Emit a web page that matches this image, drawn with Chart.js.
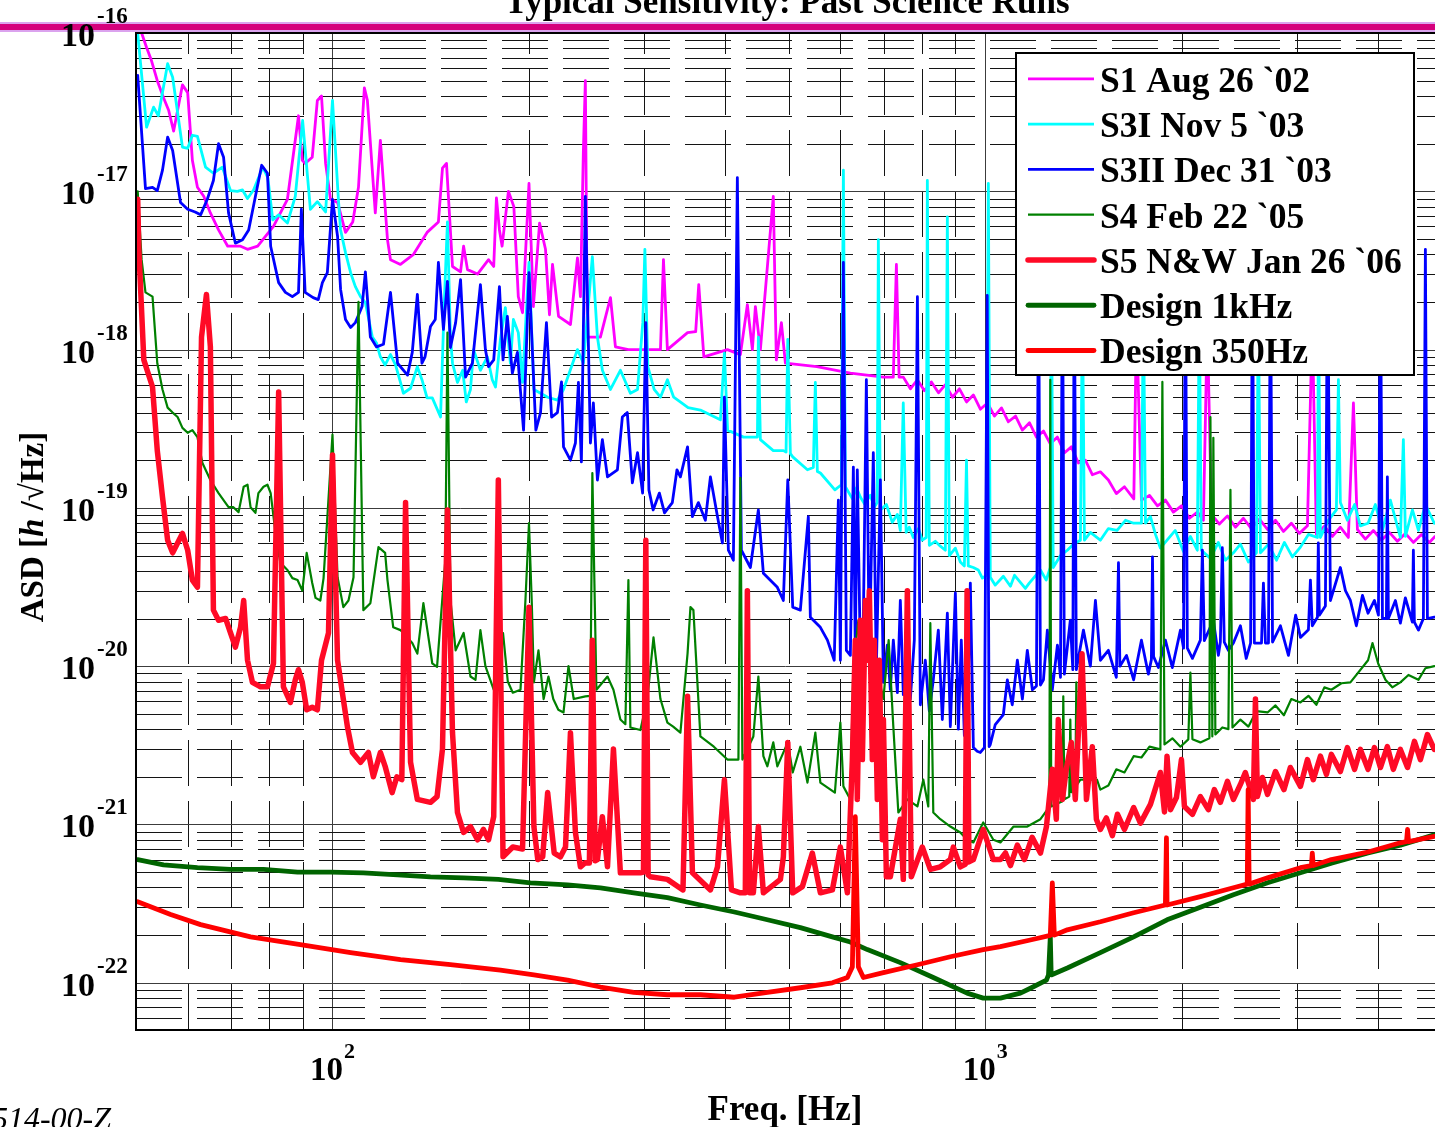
<!DOCTYPE html>
<html lang="en">
<head>
<meta charset="utf-8">
<title>Typical Sensitivity: Past Science Runs</title>
<script src="https://cdn.jsdelivr.net/npm/chart.js@4.4.1/dist/chart.umd.min.js"></script>
<style>
  html, body { margin: 0; padding: 0; background: #fff; overflow: hidden; }
  #chart-box { width: 1435px; height: 1127px; }
</style>
</head>
<body>
<div id="chart-box"><canvas id="asd-chart"></canvas></div>
<script>
// [frequency Hz, ASD 1/sqrt(Hz)] pairs
const s1Aug02 = [
  [51.0,1.0e-16],[51.9,8.1e-17],[52.8,6.7e-17],[53.9,5.0e-17],[55.1,3.9e-17],[56.1,3.25e-17],[57.1,2.4e-17],
  [58.9,4.7e-17],[60.0,4.2e-17],[61.0,1.57e-17],[62.1,1.06e-17],[63.5,9.3e-18],[65.0,7.3e-18],[66.9,5.7e-18],
  [69.1,4.5e-18],[72.3,4.5e-18],[74.1,4.3e-18],[76.8,4.5e-18],[81.2,6.0e-18],[85.3,8.9e-18],[88.7,3.0e-17],
  [89.9,1.57e-17],[90.8,1.5e-17],[93.1,1.64e-17],[94.8,3.75e-17],[96.2,4.0e-17],[97.6,1.5e-17],[99.3,8.9e-18],
  [101.8,8.5e-18],[104.7,5.5e-18],[107.4,6.4e-18],[109.6,1.06e-17],[111.9,4.5e-17],[113.1,3.75e-17],[116.3,7.3e-18],
  [118.4,2.1e-17],[121.4,4.95e-18],[122.7,3.7e-18],[127.1,3.45e-18],[133.1,4.0e-18],[139.6,5.5e-18],[145.3,6.4e-18],
  [147.4,1.4e-17],[149.5,1.5e-17],[152.7,3.35e-18],[157.1,3.1e-18],[158.8,4.5e-18],[161.0,3.2e-18],[166.8,3.0e-18],
  [173.4,3.7e-18],[176.6,3.35e-18],[178.3,9.1e-18],[180.2,5.7e-18],[181.9,4.5e-18],[186.0,1.0e-17],[189.6,8.0e-18],
  [192.6,2.16e-18],[195.5,1.71e-18],[200.0,1.12e-17],[203.1,1.87e-18],[207.6,6.3e-18],[212.0,4.3e-18],[215.0,1.66e-18],
  [217.3,3.45e-18],[222.0,1.62e-18],[231.5,1.44e-18],[237.3,3.8e-18],[239.8,2.16e-18],[242.3,1.81e-17],[244.0,5.0e-17],
  [245.7,1.2e-18],[257.3,1.2e-18],[266.6,2.13e-18],[271.3,1.04e-18],[284.0,1.0e-18],[318.0,1.0e-18],[321.4,3.7e-18],
  [325.9,1.0e-18],[349.9,1.28e-18],[360.1,1.3e-18],[364.0,2.57e-18],[370.6,9.0e-19],[402.7,1.0e-18],[421.6,9.3e-19],
  [432.1,1.92e-18],[439.8,1.0e-18],[444.5,1.87e-18],[452.4,1.0e-18],[473.5,9.3e-18],[478.6,8.6e-19],[487.2,1.48e-18],
  [494.1,8.2e-19],[552.1,7.8e-19],[621.4,7.1e-19],[698,6.7e-19],[723,6.7e-19],[731,3.45e-18],[738,6.7e-19],
  [749,6.7e-19],[768,5.65e-19],[787,6.45e-19],[807,5.5e-19],[827,6.25e-19],[848,5.33e-19],[869,6.0e-19],
  [891,5.0e-19],[913,5.65e-19],[936,4.67e-19],[959,5.17e-19],[983,4.2e-19],[1008,4.6e-19],[1033,3.8e-19],
  [1059,4.28e-19],[1085,3.5e-19],[1113,3.8e-19],[1140,3.1e-19],[1169,3.45e-19],[1198,2.8e-19],[1228,3.06e-19],
  [1258,2.54e-19],[1290,2.8e-19],[1323,2.23e-19],[1355,2.43e-19],[1389,1.92e-19],[1424,2.0e-19],[1459,1.62e-19],
  [1501,1.69e-19],[1544,1.5e-19],[1588,1.23e-19],[1634,1.36e-19],[1689,1.14e-19],[1705,1.5e-18],[1735,1.12e-19],
  [1785,1.2e-19],[1836,1.03e-19],[1888,1.12e-19],[1942,9.4e-20],[1998,1.03e-19],[2055,8.6e-20],[2114,9.4e-20],
  [2159,8.35e-20],[2189,1.5e-18],[2221,9.1e-20],[2284,7.9e-20],[2350,8.9e-20],[2417,7.55e-20],[2486,8.6e-20],
  [2557,7.4e-20],[2631,8.5e-20],[2707,7.3e-20],[2784,8.35e-20],[2863,7.1e-20],[2944,8.0e-20],[3029,6.9e-20],
  [3116,7.7e-20],[3170,1.5e-18],[3216,6.8e-20],[3308,7.66e-20],[3403,6.6e-20],[3500,7.55e-20],[3600,6.5e-20],
  [3665,4.6e-19],[3717,7.3e-20],[3823,6.35e-20],[3932,7.2e-20],[4045,6.25e-20],[4160,7.0e-20],[4280,6.15e-20],
  [4402,6.9e-20],[4528,6.05e-20],[4658,6.8e-20],[4791,6.05e-20],[4887,6.6e-20]
];

const s3iNov03 = [
  [50.3,1.0e-16],[51.9,2.54e-17],[53.2,3.4e-17],[54.1,3.0e-17],[55.9,6.4e-17],[56.9,5.25e-17],[58.9,1.9e-17],
  [60.0,1.87e-17],[61.0,2.26e-17],[62.1,2.22e-17],[63.9,1.42e-17],[65.7,1.3e-17],[67.8,1.42e-17],[69.8,1.01e-17],
  [71.5,1.0e-17],[72.8,1.02e-17],[74.1,9.0e-18],[75.7,1.02e-17],[78.2,1.42e-17],[79.6,1.22e-17],[81.0,6.6e-18],
  [82.7,7.1e-18],[85.3,6.3e-18],[87.7,9.3e-18],[90.0,2.8e-17],[92.5,7.7e-18],[94.8,8.6e-18],[97.6,7.4e-18],
  [100,3.75e-17],[102.1,8.9e-18],[102.9,5.7e-18],[104.7,4.1e-18],[106.6,3.06e-18],[108.4,2.5e-18],[110.4,2.16e-18],
  [112.3,1.98e-18],[115.1,1.2e-18],[116.8,1.1e-18],[118.4,9.0e-19],[120.4,8.0e-19],[122.7,9.3e-19],[124.9,8.0e-19],
  [127.1,6.2e-19],[128.4,5.3e-19],[131.7,5.7e-19],[134.9,7.8e-19],[137.1,6.45e-19],[139.6,4.95e-19],[142.2,4.95e-19],
  [146.4,3.75e-19],[148.4,2.07e-18],[150,6.4e-18],[151.6,1.2e-18],[152.7,8.2e-19],[155.4,6.2e-19],[158.3,7.4e-19],
  [160.3,4.67e-19],[162.7,5.6e-19],[164.5,1.0e-18],[168.5,7.4e-19],[172.7,9.0e-19],[175.7,6.45e-19],[177.7,5.8e-19],
  [180.8,1.16e-18],[184.0,1.84e-18],[187.3,8.2e-19],[189.3,1.55e-18],[192.6,1.28e-18],[195.5,6.2e-19],[200,3.55e-18],
  [203.5,5.6e-19],[213.6,5.0e-19],[221.1,4.8e-19],[225.9,5.6e-19],[237.3,1.0e-18],[242.3,8.2e-19],[250.1,3.86e-18],
  [254.6,1.2e-18],[259.1,7.4e-19],[266.6,5.6e-19],[276.1,7.4e-19],[286.0,5.3e-19],[293.3,5.6e-19],[298.8,1.48e-18],
  [301.0,4.3e-18],[304.2,7.8e-19],[311.0,5.6e-19],[318.0,5.0e-19],[325.9,6.45e-19],[333.2,5.0e-19],[350.6,4.3e-19],
  [366.1,4.15e-19],[392.9,3.6e-19],[398.5,9.5e-19],[403.0,3.1e-19],[426.3,2.8e-19],[447.7,2.8e-19],[449.2,1.2e-18],
  [452.4,2.7e-19],[473.5,2.3e-19],[490.6,2.3e-19],[495.3,2.25e-19],[498.3,1.16e-18],[502.9,2.2e-19],[507.1,2.1e-19],
  [534.1,1.74e-19],[545.3,1.8e-19],[549.2,6.2e-19],[553.1,1.7e-19],[559.0,1.66e-19],[588.4,1.3e-19],[602.0,1.4e-19],
  [606.3,1.36e-17],[610.6,1.36e-19],[626,1.14e-19],[635,1.34e-19],[643.7,1.17e-19],[653,1.06e-19],[666.8,1.2e-19],
  [676,1.01e-19],[683,1.08e-19],[685.9,4.95e-18],[690.8,9.7e-20],[705.6,1.05e-19],[720.5,8.1e-20],[733.5,9.1e-20],
  [741.2,7.2e-20],[748.9,4.6e-19],[756.6,7.0e-20],[765,7.55e-20],[775.8,6.5e-20],[790,7.4e-20],[800.9,6.25e-20],
  [812,6.5e-20],[815.3,1.17e-17],[821,5.8e-20],[838.5,6.15e-20],[853.5,5.73e-20],[868.7,5.4e-20],[874.9,6.9e-18],
  [881,5.0e-20],[900,5.57e-20],[915.9,4.55e-20],[929,4.3e-20],[936,2.0e-19],[942,4.3e-20],[959,4.2e-20],
  [976,4.05e-20],[990,3.6e-20],[1004,3.75e-20],[1011,1.12e-17],[1018,3.65e-20],[1036,3.25e-20],[1066,3.7e-20],
  [1093,3.2e-20],[1109,3.75e-20],[1152,3.1e-20],[1168,3.35e-20],[1215,4.05e-20],[1240,3.5e-20],[1258,4.2e-20],
  [1262,4.3e-18],[1271,4.2e-20],[1304,5.0e-20],[1336,5.4e-20],[1365,5.9e-20],[1399,6.25e-20],[1409,2.07e-18],
  [1419,6.25e-20],[1449,7.0e-20],[1501,6.25e-20],[1544,7.4e-20],[1592,7.2e-20],[1640,8.35e-20],[1688,8.0e-20],
  [1735,8.0e-20],[1747,2.07e-18],[1760,8.0e-20],[1791,8.8e-20],[1823,6.8e-20],[1855,5.57e-20],[1899,6.25e-20],
  [1955,7.2e-20],[2012,5.3e-20],[2062,6.6e-20],[2113,5.4e-20],[2128,2.07e-18],[2143,5.4e-20],[2213,4.8e-20],
  [2276,6.05e-20],[2333,4.67e-20],[2400,5.2e-20],[2460,5.9e-20],[2530,4.55e-20],[2603,5.2e-20],[2621,2.07e-18],
  [2640,5.2e-20],[2716,5.9e-20],[2794,4.67e-20],[2873,6.05e-20],[2955,4.9e-20],[3040,5.65e-20],[3127,6.8e-20],
  [3228,6.5e-20],[3240,2.07e-18],[3262,6.5e-20],[3355,8.35e-20],[3451,9.7e-20],[3476,6.45e-19],[3500,1.08e-19],
  [3588,8.35e-20],[3680,1.05e-19],[3756,7.7e-20],[3859,8.0e-20],[3960,1.05e-19],[4060,7.2e-20],[4175,1.12e-19],
  [4325,6.5e-20],[4371,2.7e-19],[4403,6.6e-20],[4513,9.7e-20],[4610,7.2e-20],[4724,1.05e-19],[4875,8.0e-20]
];

const s3iiDec03 = [
  [50.3,5.4e-17],[51.7,1.04e-17],[53.0,1.06e-17],[53.9,1.01e-17],[54.9,1.36e-17],[55.9,2.2e-17],[56.9,1.81e-17],
  [58.5,8.5e-18],[60.0,7.7e-18],[61.6,7.4e-18],[62.8,7.1e-18],[64.3,8.9e-18],[65.7,1.17e-17],[66.9,2.0e-17],
  [68.1,1.64e-17],[69.3,7.3e-18],[71.0,4.7e-18],[72.8,4.95e-18],[74.4,5.7e-18],[76.2,9.3e-18],[77.9,1.46e-17],
  [79.5,1.3e-17],[80.4,4.5e-18],[82.7,2.65e-18],[84.7,2.3e-18],[86.8,2.16e-18],[88.7,2.3e-18],[89.6,7.7e-18],
  [90.8,2.3e-18],[93.4,2.13e-18],[95.1,2.07e-18],[96.5,2.65e-18],[98.2,3.06e-18],[100,8.9e-18],[101.8,5.2e-18],
  [102.9,2.4e-18],[104.7,1.55e-18],[106.6,1.38e-18],[108.4,1.48e-18],[111.0,1.87e-18],[112.3,3.1e-18],[114.3,1.2e-18],
  [116.8,1.04e-18],[119.7,1.08e-18],[122.7,2.3e-18],[125.8,8.2e-19],[130.3,6.9e-19],[132.5,9.6e-19],[134.9,2.23e-18],
  [137.1,8.2e-19],[138.6,9.0e-19],[141.3,1.4e-18],[143.7,1.55e-18],[145.3,3.55e-18],[147.9,1.34e-18],[150,2.7e-18],
  [151.6,1.03e-18],[154.4,1.48e-18],[157.1,2.77e-18],[159.9,6.7e-19],[163.8,8.2e-19],[168.5,2.57e-18],[171.5,1.0e-18],
  [173.4,7.8e-19],[176.6,8.6e-19],[180.2,2.5e-18],[182.5,8.6e-19],[185.3,1.62e-18],[188.6,7.1e-19],[192.0,9.6e-19],
  [196.2,3.1e-19],[200,3.06e-18],[204.9,3.1e-19],[208.3,4.0e-19],[212.7,1.48e-18],[216.6,3.75e-19],[221.1,4.0e-19],
  [224.3,6.25e-19],[225.9,2.43e-19],[231.5,2.0e-19],[235.6,2.57e-19],[238.1,6.2e-19],[240.6,1.95e-19],[244.0,9.3e-18],
  [248.4,2.57e-19],[251.0,4.6e-19],[254.6,1.5e-19],[259.1,2.7e-19],[263.8,1.57e-19],[273.2,1.74e-19],[278.0,3.75e-19],
  [282.9,4.0e-19],[288.0,1.44e-19],[293.3,2.23e-19],[298.6,1.24e-19],[302.0,1.48e-18],[305.3,1.3e-19],[309.9,9.7e-20],
  [316.8,1.24e-19],[322.6,9.3e-20],[331.6,1.08e-19],[337.1,1.74e-19],[341.2,1.57e-19],[349.9,2.43e-19],[355.9,8.8e-20],
  [363.5,1.08e-19],[372.6,8.35e-20],[379.3,1.57e-19],[388.9,8.8e-20],[395.7,6.0e-20],[398.5,5.0e-19],[404.1,5.4e-20],
  [411.3,4.67e-20],[417.1,1.22e-17],[423.1,5.4e-20],[436.7,4.2e-20],[449.2,9.7e-20],[457.2,3.86e-20],[480.3,3.15e-20],
  [490.6,2.6e-20],[498.3,1.5e-19],[507.1,2.36e-20],[520.9,2.26e-20],[535.8,8.8e-20],[539.6,2.04e-20],[559.0,1.76e-20],
  [573.1,1.46e-20],[587.0,1.09e-20],[595.7,1.12e-19],[599.9,1.09e-20],[606.3,3.55e-18],[612.7,1.26e-20],[621.4,1.17e-20],
  [628.0,1.81e-19],[632.3,1.26e-20],[636.8,1.74e-19],[643.7,1.17e-20],[650.6,1.95e-20],[657.5,6.45e-19],[664.4,1.09e-20],
  [673.8,2.23e-19],[681.0,9.5e-21],[690.8,1.5e-19],[698.2,7.9e-21],[707.9,1.36e-20],[715.5,7.1e-21],[723.1,1.46e-20],
  [733.5,6.8e-21],[741.2,2.6e-20],[749,6.6e-21],[759.8,1.26e-20],[767.8,6.2e-21],[778.7,1.46e-20],[787.2,2.16e-18],
  [795.4,5.7e-21],[809.5,1.09e-20],[821,5.2e-21],[832.6,8.2e-21],[847.5,1.69e-20],[859.6,4.6e-21],[874.9,2.16e-20],
  [884.2,4.15e-21],[900,2.9e-20],[909.5,4.0e-21],[919,1.46e-20],[929,3.65e-21],[938,3.45e-21],[948.8,3.35e-20],
  [959,3.06e-21],[972,2.9e-21],[983,2.85e-21],[997,3.06e-21],[1007,2.2e-18],[1014,3.1e-21],[1018,3.2e-21],
  [1036,4.28e-21],[1066,4.95e-21],[1081,8.2e-21],[1100,5.7e-21],[1120,1.09e-20],[1140,6.2e-21],[1160,1.26e-20],
  [1181,7.1e-21],[1198,7.5e-21],[1207,4.3e-18],[1215,7.6e-21],[1228,8.2e-21],[1245,1.69e-20],[1267,7.1e-21],
  [1290,1.36e-20],[1304,8.5e-21],[1313,4.3e-18],[1322,8.9e-21],[1350,1.95e-20],[1362,9.5e-21],[1369,4.3e-18],
  [1379,9.5e-21],[1414,1.69e-20],[1449,1.0e-20],[1475,2.6e-20],[1501,1.09e-20],[1544,1.26e-20],[1588,8.5e-21],
  [1600,4.5e-20],[1608,1.0e-20],[1646,1.17e-20],[1688,8.2e-21],[1735,1.46e-20],[1778,8.9e-21],[1797,1.1e-20],
  [1804,4.9e-20],[1811,1.15e-20],[1842,9.8e-21],[1888,1.46e-20],[1935,9.8e-21],[1991,1.69e-20],[2013,1.3e-20],
  [2026,4.3e-18],[2040,1.3e-20],[2077,1.12e-20],[2136,1.46e-20],[2151,5.4e-20],[2166,1.45e-20],[2236,1.95e-20],
  [2276,1.17e-20],[2292,1.42e-20],[2308,5.6e-20],[2324,1.42e-20],[2358,1.26e-20],[2400,1.4e-20],[2460,1.8e-20],
  [2511,1.12e-20],[2550,1.4e-20],[2567,4.3e-18],[2584,1.4e-20],[2650,1.4e-20],[2668,3.35e-20],[2687,1.4e-20],
  [2716,1.4e-20],[2735,4.3e-18],[2755,1.42e-20],[2833,1.8e-20],[2914,1.17e-20],[2989,2.1e-20],[3040,1.52e-20],
  [3127,1.7e-20],[3149,3.5e-20],[3170,1.8e-20],[3228,2.04e-20],[3238,6.0e-20],[3250,2.1e-20],[3320,2.4e-20],
  [3345,4.3e-18],[3379,2.6e-20],[3500,4.2e-20],[3563,3.0e-20],[3626,2.6e-20],[3703,1.8e-20],[3784,2.8e-20],
  [3859,2.16e-20],[3947,2.6e-20],[4003,2.1e-20],[4031,4.3e-18],[4060,2.0e-20],[4117,2.0e-20],[4131,1.57e-19],
  [4146,2.0e-20],[4250,2.6e-20],[4325,1.87e-20],[4402,2.7e-20],[4512,1.9e-20],[4528,5.4e-20],[4544,1.9e-20],
  [4610,1.69e-20],[4691,2.0e-20],[4724,4.3e-18],[4758,2.0e-20],[4875,2.04e-20]
];

const s4Feb05 = [
  [50.3,1.0e-17],[51.0,3.7e-18],[51.7,2.3e-18],[53.0,2.16e-18],[53.9,8.2e-19],[54.9,5.6e-19],[55.9,4.3e-19],
  [56.9,4.0e-19],[57.9,3.75e-19],[58.9,3.2e-19],[60.0,2.98e-19],[61.0,3.1e-19],[62.1,2.8e-19],[63.2,1.92e-19],
  [65.0,1.5e-19],[66.9,1.24e-19],[69.3,1.01e-19],[70.5,1.01e-19],[71.8,9.4e-20],[73.1,1.36e-19],[74.1,1.4e-19],
  [74.9,1.01e-19],[76.2,9.3e-20],[77.0,1.24e-19],[78.4,1.36e-19],[79.5,1.4e-19],[80.4,1.24e-19],[81.8,6.9e-20],
  [83.2,4.5e-20],[85.3,4.05e-20],[86.8,3.6e-20],[88.4,3.5e-20],[89.9,3.0e-20],[91.3,5.2e-20],[93.1,3.35e-20],
  [94.2,2.7e-20],[95.8,2.6e-20],[96.9,3.6e-20],[100,2.9e-19],[101.8,3.65e-20],[103.9,2.36e-20],[105.8,2.6e-20],
  [107.7,3.65e-20],[109.6,2.0e-18],[111.5,2.26e-20],[114.3,2.5e-20],[117.6,5.65e-20],[120.4,5.2e-20],[121.4,3.5e-20],
  [123.9,1.76e-20],[127.1,1.69e-20],[132.5,1.4e-20],[134.9,1.2e-20],[137.8,2.5e-20],[142.2,1.04e-20],[144.6,9.9e-21],
  [148.9,4.67e-20],[150,1.28e-18],[151.6,2.6e-20],[154.4,1.26e-20],[158.8,1.62e-20],[162.7,8.6e-21],[165.6,8.2e-21],
  [168.5,1.69e-20],[171.5,1.0e-20],[176.6,7.1e-21],[182.5,1.62e-20],[185.6,8.0e-21],[188.9,6.8e-21],[194.1,7.1e-21],
  [197.5,2.6e-20],[200,8.0e-20],[202,2.5e-20],[203.5,7.9e-21],[206.8,1.26e-20],[210.6,6.2e-21],[214.2,8.6e-21],
  [217.9,6.2e-21],[221.8,5.3e-21],[225.9,5.1e-21],[229.9,1.0e-20],[234.2,6.2e-21],[244.0,6.45e-21],[248.4,6.5e-21],
  [250.1,1.66e-19],[253.7,7.1e-21],[263.8,8.6e-21],[269.4,7.1e-21],[276.1,4.6e-21],[281.0,4.3e-21],[284.0,3.5e-20],
  [286,4.1e-21],[296.3,3.95e-21],[303.6,6.2e-21],[310.3,1.52e-20],[318.0,6.2e-21],[325.9,4.4e-21],[332.6,4.15e-21],
  [341.2,3.8e-21],[349.9,1.2e-20],[353.5,2.36e-20],[357.2,2.26e-20],[366.1,3.6e-21],[383.9,3.1e-21],[402.7,2.57e-21],
  [418.7,2.57e-21],[421.6,1.55e-19],[424.6,2.57e-21],[441.3,3.6e-21],[449.2,8.6e-21],[457.2,2.7e-21],[463.7,2.33e-21],
  [473.5,3.3e-21],[480.3,2.33e-21],[498.3,3.3e-21],[507.1,2.13e-21],[520.9,3.1e-21],[534.1,1.84e-21],[549.2,3.8e-21],
  [559.0,1.84e-21],[588.4,1.59e-21],[599.9,4.4e-21],[606.3,1.74e-21],[621.4,1.44e-21],[628.0,1.0e-20],[639.2,1.95e-20],
  [648.3,1.46e-20],[659.8,1.62e-20],[683.8,9.1e-21],[698.2,6.2e-21],[711.3,1.46e-20],[723.1,4.15e-21],[736.0,1.19e-21],
  [759.8,1.44e-21],[787.2,1.3e-21],[803.8,1.92e-21],[818,1.3e-21],[823.9,1.87e-20],[832.6,1.19e-21],[853.5,1.08e-21],
  [884.2,9.7e-22],[915.9,8.9e-22],[938.0,8.0e-22],[959.0,7.7e-22],[993,1.03e-21],[1029,8.0e-22],[1055,7.7e-22],
  [1105,9.7e-22],[1160,9.7e-22],[1215,1.08e-21],[1245,1.24e-21],[1254,1.3e-21],[1258,6.45e-19],[1262,1.3e-21],
  [1313,1.4e-21],[1317,6.45e-21],[1322,1.44e-21],[1345,1.5e-21],[1350,4.6e-21],[1355,1.6e-21],[1374,1.7e-21],
  [1379,7.9e-21],[1384,1.8e-21],[1399,1.92e-21],[1483,1.92e-21],[1501,1.66e-21],[1544,1.76e-21],[1588,2.23e-21],
  [1634,2.13e-21],[1688,2.7e-21],[1735,2.65e-21],[1785,3.1e-21],[1855,2.98e-21],[1868,6.25e-19],[1882,3.2e-21],
  [1935,3.5e-21],[1991,3.1e-21],[2047,3.45e-21],[2062,9.1e-21],[2077,3.45e-21],[2136,3.3e-21],[2205,3.5e-21],
  [2213,3.75e-19],[2228,3.6e-21],[2236,2.77e-19],[2252,3.7e-21],[2308,4.1e-21],[2358,4.0e-21],[2375,1.3e-19],
  [2392,4.1e-21],[2460,4.6e-21],[2530,4.15e-21],[2603,5.2e-21],[2707,5.1e-21],[2784,5.65e-21],[2868,4.9e-21],
  [2944,6.2e-21],[3040,5.9e-21],[3127,6.5e-21],[3216,5.7e-21],[3308,7.35e-21],[3391,7.1e-21],[3513,7.8e-21],
  [3626,7.9e-21],[3859,1.09e-20],[3920,1.4e-20],[3999,1.04e-20],[4103,8.2e-21],[4204,7.35e-21],[4325,7.9e-21],
  [4450,8.8e-21],[4609,8.2e-21],[4724,9.7e-21],[4875,1.0e-20]
];

const s5Jan06 = [
  [50.3,8.9e-18],[50.5,4.3e-18],[51.4,8.6e-19],[53.0,5.8e-19],[53.9,2.3e-19],[54.9,1.17e-19],[55.9,6.25e-20],
  [56.9,5.2e-20],[58.9,6.9e-20],[60.0,5.4e-20],[61.0,3.5e-20],[62.1,3.15e-20],[63.0,1.2e-18],[64.1,2.23e-18],
  [65.0,1.04e-18],[65.7,2.26e-20],[66.9,1.95e-20],[68.6,2.0e-20],[69.8,1.62e-20],[71.0,1.32e-20],[72.3,1.76e-20],
  [73.1,2.6e-20],[74.1,1.09e-20],[75.4,7.9e-21],[77.6,7.4e-21],[79.5,7.4e-21],[81.2,1.04e-20],[82.7,5.4e-19],
  [84.1,7.4e-21],[86.2,5.9e-21],[87.7,8.2e-21],[88.7,9.5e-21],[89.9,7.9e-21],[91.3,5.3e-21],[93.1,5.5e-21],
  [94.8,5.3e-21],[96.2,1.09e-20],[98.6,1.62e-20],[100,2.16e-19],[101.8,1.09e-20],[105.4,4.15e-21],[107.3,2.85e-21],
  [110.4,2.47e-21],[113.5,2.85e-21],[115.5,2.0e-21],[118.4,2.85e-21],[120.4,2.33e-21],[123.4,1.59e-21],[125.5,2.0e-21],
  [127.7,1.92e-21],[129.4,1.08e-19],[131.7,2.47e-21],[134.9,1.44e-21],[141.3,1.38e-21],[144.6,1.5e-21],[147.4,3.0e-21],
  [150,9.7e-20],[152.7,3.8e-21],[155.4,1.19e-21],[158.8,8.9e-22],[162.7,9.7e-22],[166.8,8.0e-22],[170.3,9.3e-22],
  [173.4,8.0e-22],[176.6,1.12e-21],[179.5,1.5e-19],[182.5,6.25e-22],[188.9,7.2e-22],[195.5,7.0e-22],[200,2.36e-20],
  [203.5,9.7e-22],[206.3,6.0e-22],[209.9,6.25e-22],[213.6,1.59e-21],[218.6,6.6e-22],[223.5,6.25e-22],[227.5,7.2e-22],
  [231.5,3.8e-21],[235.6,8.9e-22],[239.8,5.4e-22],[244.0,5.73e-22],[247.5,5.7e-22],[250.1,1.46e-20],[252.6,5.9e-22],
  [254.6,6.0e-22],[259.1,1.12e-21],[263.8,5.4e-22],[269.4,3.0e-21],[276.1,4.95e-22],[296.3,4.95e-22],[299.5,5.0e-22],
  [302.0,6.25e-20],[304.5,4.8e-22],[307.0,4.67e-22],[325.9,4.5e-22],[344.3,3.86e-22],[349.9,6.45e-21],[356.0,4.95e-22],
  [379.3,3.86e-22],[388.9,5.4e-22],[398.5,1.92e-21],[408.5,3.86e-22],[421.6,3.7e-22],[429,3.7e-22],[432.1,3.0e-20],
  [435.5,3.7e-22],[441.3,3.7e-22],[449.2,9.7e-22],[457.2,3.7e-22],[485.5,4.5e-22],[490.6,6.25e-22],[498.3,3.3e-21],
  [507.1,3.7e-22],[524.6,4.05e-22],[543.4,6.6e-22],[559.0,3.7e-22],[583.2,3.86e-22],[599.9,7.2e-22],[614.9,3.7e-22],
  [625.8,2.57e-21],[632.3,1.46e-20],[636.8,1.44e-21],[643.7,1.95e-20],[648.3,2.57e-21],[655.2,2.6e-20],[659.8,1.09e-20],
  [664.4,3.0e-20],[671.5,2.57e-21],[676.2,1.46e-20],[683.4,1.44e-21],[688.3,1.09e-20],[695.7,8.0e-22],[698.2,4.6e-21],
  [705.6,4.67e-22],[715.5,4.67e-22],[741.2,1.08e-21],[749,4.5e-22],[759.8,3.0e-20],[770.5,4.67e-22],[800.9,7.2e-22],
  [823.9,5.2e-22],[853.5,5.4e-22],[884.2,6.0e-22],[893.6,7.2e-22],[915.9,5.4e-22],[932,5.6e-22],[938,3.0e-20],
  [944,5.8e-22],[959,6.0e-22],[993,9.3e-22],[1029,6.0e-22],[1055,6.0e-22],[1074,6.6e-22],[1093,5.5e-22],
  [1120,7.4e-22],[1148,6.0e-22],[1180,8.3e-22],[1215,6.6e-22],[1241,9.7e-22],[1267,2.23e-21],[1285,1.08e-21],
  [1294,4.6e-21],[1313,1.44e-21],[1331,2.23e-21],[1355,3.3e-21],[1374,1.44e-21],[1407,1.2e-20],[1429,1.44e-21],
  [1459,3.1e-21],[1480,1.08e-21],[1501,9.3e-22],[1533,1.1e-21],[1566,8.5e-22],[1594,1.16e-21],[1634,9.3e-22],
  [1688,1.28e-21],[1729,1.02e-21],[1791,1.34e-21],[1855,2.13e-21],[1882,1.2e-21],[1899,2.7e-21],[1922,1.24e-21],
  [1963,1.48e-21],[1998,2.57e-21],[2019,1.3e-21],[2077,1.16e-21],[2136,1.5e-21],[2197,1.24e-21],[2244,1.66e-21],
  [2292,1.38e-21],[2350,1.87e-21],[2400,1.44e-21],[2460,1.79e-21],[2503,2.13e-21],[2575,1.44e-21],[2594,6.2e-21],
  [2612,1.5e-21],[2659,1.98e-21],[2707,1.55e-21],[2784,2.16e-21],[2868,1.66e-21],[2934,2.29e-21],[3040,1.74e-21],
  [3116,2.57e-21],[3181,1.92e-21],[3262,2.7e-21],[3332,2.07e-21],[3391,2.77e-21],[3500,2.16e-21],[3588,3.06e-21],
  [3680,2.23e-21],[3756,2.98e-21],[3859,2.23e-21],[3947,3.06e-21],[4031,2.29e-21],[4131,3.1e-21],[4219,2.23e-21],
  [4325,2.98e-21],[4436,2.29e-21],[4545,3.35e-21],[4642,2.57e-21],[4758,3.7e-21],[4875,2.98e-21]
];

const design1kHz = [
  [50.3,6.0e-22],[55.1,5.55e-22],[62.1,5.33e-22],[69.8,5.2e-22],[78.4,5.2e-22],[88.4,5.0e-22],[99.3,5.0e-22],
  [111.5,4.95e-22],[125.8,4.8e-22],[141.3,4.67e-22],[158.8,4.6e-22],[179.5,4.5e-22],[201.0,4.28e-22],[229.1,4.15e-22],
  [257.3,3.98e-22],[289.4,3.7e-22],[325.9,3.45e-22],[366.1,3.1e-22],[412.7,2.8e-22],[463.7,2.5e-22],[520.9,2.23e-22],
  [583.2,1.95e-22],[621.4,1.81e-22],[659.8,1.62e-22],[741.2,1.34e-22],[832.6,1.08e-22],[938,8.6e-23],[993,8.0e-23],
  [1055,8.0e-23],[1132,8.6e-23],[1177,9.3e-23],[1241,1.04e-22],[1250,1.12e-22],[1258,1.95e-22],[1262,1.12e-22],
  [1336,1.24e-22],[1501,1.55e-22],[1688,1.95e-22],[1899,2.5e-22],[2136,3.0e-22],[2400,3.6e-22],[2707,4.28e-22],
  [3040,4.95e-22],[3391,5.7e-22],[3859,6.6e-22],[4325,7.4e-22],[4875,8.6e-22]
];

const design350Hz = [
  [50.3,3.25e-22],[56.5,2.7e-22],[62.8,2.33e-22],[74.9,1.95e-22],[89.3,1.74e-22],[106.6,1.55e-22],[127.1,1.4e-22],
  [151.6,1.3e-22],[180.8,1.2e-22],[203.5,1.12e-22],[229.1,1.04e-22],[257.3,9.4e-23],[289.4,8.7e-23],[325.9,8.4e-23],
  [366.1,8.4e-23],[412.7,8.1e-23],[463.7,8.7e-23],[520.9,9.3e-23],[583.2,1.0e-22],[614.9,1.08e-22],[625.8,1.26e-22],
  [632.3,1.12e-21],[639.2,1.26e-22],[650.6,1.08e-22],[698.2,1.16e-22],[787.2,1.3e-22],[884.2,1.46e-22],[993,1.62e-22],
  [1055,1.69e-22],[1177,1.87e-22],[1258,1.99e-22],[1267,4.28e-22],[1276,2.0e-22],[1336,2.16e-22],[1501,2.43e-22],
  [1688,2.77e-22],[1888,3.1e-22],[1895,8.24e-22],[1899,3.1e-22],[2136,3.5e-22],[2400,3.98e-22],[2520,4.2e-22],
  [2528,1.66e-21],[2537,4.2e-22],[2707,4.6e-22],[3040,5.33e-22],[3160,5.5e-22],[3170,6.6e-22],[3181,5.5e-22],
  [3391,6.0e-22],[3859,6.7e-22],[4325,7.66e-22],[4420,7.8e-22],[4436,9.3e-22],[4452,7.8e-22],[4875,8.4e-22]
];

const seriesLabels = ['S1 Aug 26 `02', 'S3I Nov 5 `03', 'S3II Dec 31 `03', 'S4 Feb 22 `05',
                      'S5 N&W Jan 26 `06', 'Design 1kHz', 'Design 350Hz'];
const yExponents = [-16, -17, -18, -19, -20, -21, -22];
const xExponents = [2, 3];

const SERIF = '"Liberation Serif", "Times New Roman", serif';
const seriesData = [s1Aug02, s3iNov03, s3iiDec03, s4Feb05, s5Jan06, design1kHz, design350Hz];
const lineStyles = [
    { color: '#ff00ff', width: 2.8 },
    { color: '#00ffff', width: 2.8 },
    { color: '#0000ff', width: 2.8 },
    { color: '#008000', width: 2.2 },
    { color: '#ff0a26', width: 5.5 },
    { color: '#006400', width: 4.8 },
    { color: '#ff0000', width: 4.8 }
];

// grid, frame, tick labels, titles and the legend box (MATLAB look)
const matlabLook = {
    id: 'matlabLook',
    beforeDatasetsDraw(chart) {
        const { ctx, chartArea: a, scales: { x, y } } = chart;
        ctx.save();
        ctx.beginPath();
        ctx.rect(a.left, a.top, a.right - a.left, a.bottom - a.top);
        ctx.clip();
        ctx.lineWidth = 1;
        for (let k = 1; k <= 3; k++) {
            for (let m = 1; m <= 9; m++) {
                const v = m * Math.pow(10, k);
                if (v <= x.min || v >= x.max) continue;
                const px = Math.round(x.getPixelForValue(v)) + 0.5;
                ctx.setLineDash(m === 1 ? [] : [46, 15]);
                ctx.strokeStyle = m === 1 ? '#3c3c3c' : '#141414';
                ctx.beginPath();
                ctx.moveTo(px, a.bottom);
                ctx.lineTo(px, a.top);
                ctx.stroke();
            }
        }
        for (let k = -23; k <= -17; k++) {
            for (let m = 1; m <= 9; m++) {
                const v = m * Math.pow(10, k);
                if (v <= y.min || v >= y.max) continue;
                const py = Math.round(y.getPixelForValue(v)) + 0.5;
                ctx.setLineDash(m === 1 ? [] : [46, 15]);
                ctx.strokeStyle = m === 1 ? '#3c3c3c' : '#141414';
                ctx.beginPath();
                ctx.moveTo(a.left, py);
                ctx.lineTo(a.right, py);
                ctx.stroke();
            }
        }
        ctx.restore();
    },
    afterDatasetsDraw(chart) {
        const { ctx, chartArea: a, scales: { x, y } } = chart;
        const W = chart.width;
        ctx.save();

        // frame
        ctx.setLineDash([]);
        ctx.strokeStyle = '#000';
        ctx.lineWidth = 2;
        ctx.beginPath();
        ctx.moveTo(a.right + 2, a.top);
        ctx.lineTo(a.left, a.top);
        ctx.lineTo(a.left, a.bottom);
        ctx.lineTo(a.right + 2, a.bottom);
        ctx.stroke();

        // slide header bar
        ctx.fillStyle = '#dba3ee';
        ctx.fillRect(0, a.top - 11, W, 2);
        ctx.fillRect(0, a.top - 3, W, 2);
        ctx.fillStyle = '#d5007d';
        ctx.fillRect(0, a.top - 9, W, 6);

        // title (cut by the top edge, as in the slide)
        ctx.fillStyle = '#000';
        ctx.textAlign = 'center';
        ctx.textBaseline = 'alphabetic';
        ctx.font = `bold 35px ${SERIF}`;
        ctx.fillText('Typical Sensitivity: Past Science Runs', 787, 13);

        // y tick labels
        yExponents.forEach(e => {
            const py = y.getPixelForValue(Math.pow(10, e));
            ctx.textAlign = 'right';
            ctx.font = `bold 34px ${SERIF}`;
            ctx.fillText('10', a.left - 41, py + 13);
            ctx.textAlign = 'left';
            ctx.font = `bold 23px ${SERIF}`;
            ctx.fillText(String(e), a.left - 39, py - 10);
        });

        // x tick labels
        xExponents.forEach(e => {
            const px = x.getPixelForValue(Math.pow(10, e));
            ctx.font = `bold 33px ${SERIF}`;
            const wBase = ctx.measureText('10').width;
            ctx.font = `bold 22px ${SERIF}`;
            const wSup = ctx.measureText(String(e)).width;
            const start = px - (wBase + 1 + wSup) / 2;
            ctx.textAlign = 'left';
            ctx.font = `bold 33px ${SERIF}`;
            ctx.fillText('10', start, a.bottom + 50);
            ctx.font = `bold 22px ${SERIF}`;
            ctx.fillText(String(e), start + wBase + 1, a.bottom + 28);
        });

        // axis titles
        ctx.textAlign = 'center';
        ctx.font = `bold 35px ${SERIF}`;
        ctx.fillText('Freq. [Hz]', 785, a.bottom + 90);

        ctx.save();
        ctx.translate(43, 527);
        ctx.rotate(-Math.PI / 2);
        const parts = [
            ['ASD [', `bold 33px ${SERIF}`],
            ['h', `italic bold 33px ${SERIF}`],
            [' /\u221AHz]', `bold 33px ${SERIF}`]
        ];
        let total = 0;
        parts.forEach(([t, f]) => { ctx.font = f; total += ctx.measureText(t).width; });
        let cx = -total / 2;
        ctx.textAlign = 'left';
        parts.forEach(([t, f]) => {
            ctx.font = f;
            ctx.fillText(t, cx, 0);
            cx += ctx.measureText(t).width;
        });
        ctx.restore();

        // document number at the bottom left, partly cut off
        ctx.textAlign = 'right';
        ctx.font = `italic 32px ${SERIF}`;
        ctx.fillText('LIGO-G060514-00-Z', 111, 1129);

        // legend
        const box = { left: 1016, top: 53, width: 398, height: 322 };
        ctx.fillStyle = '#fff';
        ctx.fillRect(box.left, box.top, box.width, box.height);
        ctx.strokeStyle = '#000';
        ctx.lineWidth = 2;
        ctx.strokeRect(box.left, box.top, box.width, box.height);
        chart.data.datasets.forEach((ds, i) => {
            const base = box.top + 38.7 + i * 45.27;
            const ly = base - 12.8;
            ctx.strokeStyle = ds.borderColor;
            ctx.lineWidth = ds.borderWidth;
            ctx.lineCap = ds.borderWidth > 3 ? 'round' : 'butt';
            ctx.beginPath();
            ctx.moveTo(box.left + 12, ly);
            ctx.lineTo(box.left + 78, ly);
            ctx.stroke();
            ctx.fillStyle = '#000';
            ctx.textAlign = 'left';
            ctx.font = `bold 35.5px ${SERIF}`;
            ctx.fillText(ds.label, box.left + 84, base);
        });
        ctx.restore();
    }
};

const datasets = seriesData.map((rows, i) => ({
    label: seriesLabels[i],
    data: rows.map(([f, v]) => ({ x: f, y: v })),
    showLine: true,
    borderColor: lineStyles[i].color,
    backgroundColor: lineStyles[i].color,
    borderWidth: lineStyles[i].width,
    borderJoinStyle: 'round',
    borderCapStyle: 'round',
    pointRadius: 0,
    tension: 0,
    clip: 0,
    order: seriesData.length - i
}));

new Chart(document.getElementById('asd-chart'), {
    type: 'scatter',
    data: { datasets },
    options: {
        responsive: true,
        maintainAspectRatio: false,
        devicePixelRatio: 1,
        animation: false,
        events: [],
        layout: { padding: { top: 33, right: 0, bottom: 0, left: 0 } },
        plugins: {
            legend: { display: false },
            tooltip: { enabled: false },
            title: { display: false }
        },
        scales: {
            x: {
                type: 'logarithmic',
                min: 50,
                max: 4887,
                grid: { display: false },
                border: { display: false },
                ticks: { display: false },
                afterFit: scale => { scale.height = 97; }
            },
            y: {
                type: 'logarithmic',
                min: 5.03e-23,
                max: 1e-16,
                grid: { display: false },
                border: { display: false },
                ticks: { display: false },
                afterFit: scale => { scale.width = 136; }
            }
        }
    },
    plugins: [matlabLook]
});
</script>
</body>
</html>
